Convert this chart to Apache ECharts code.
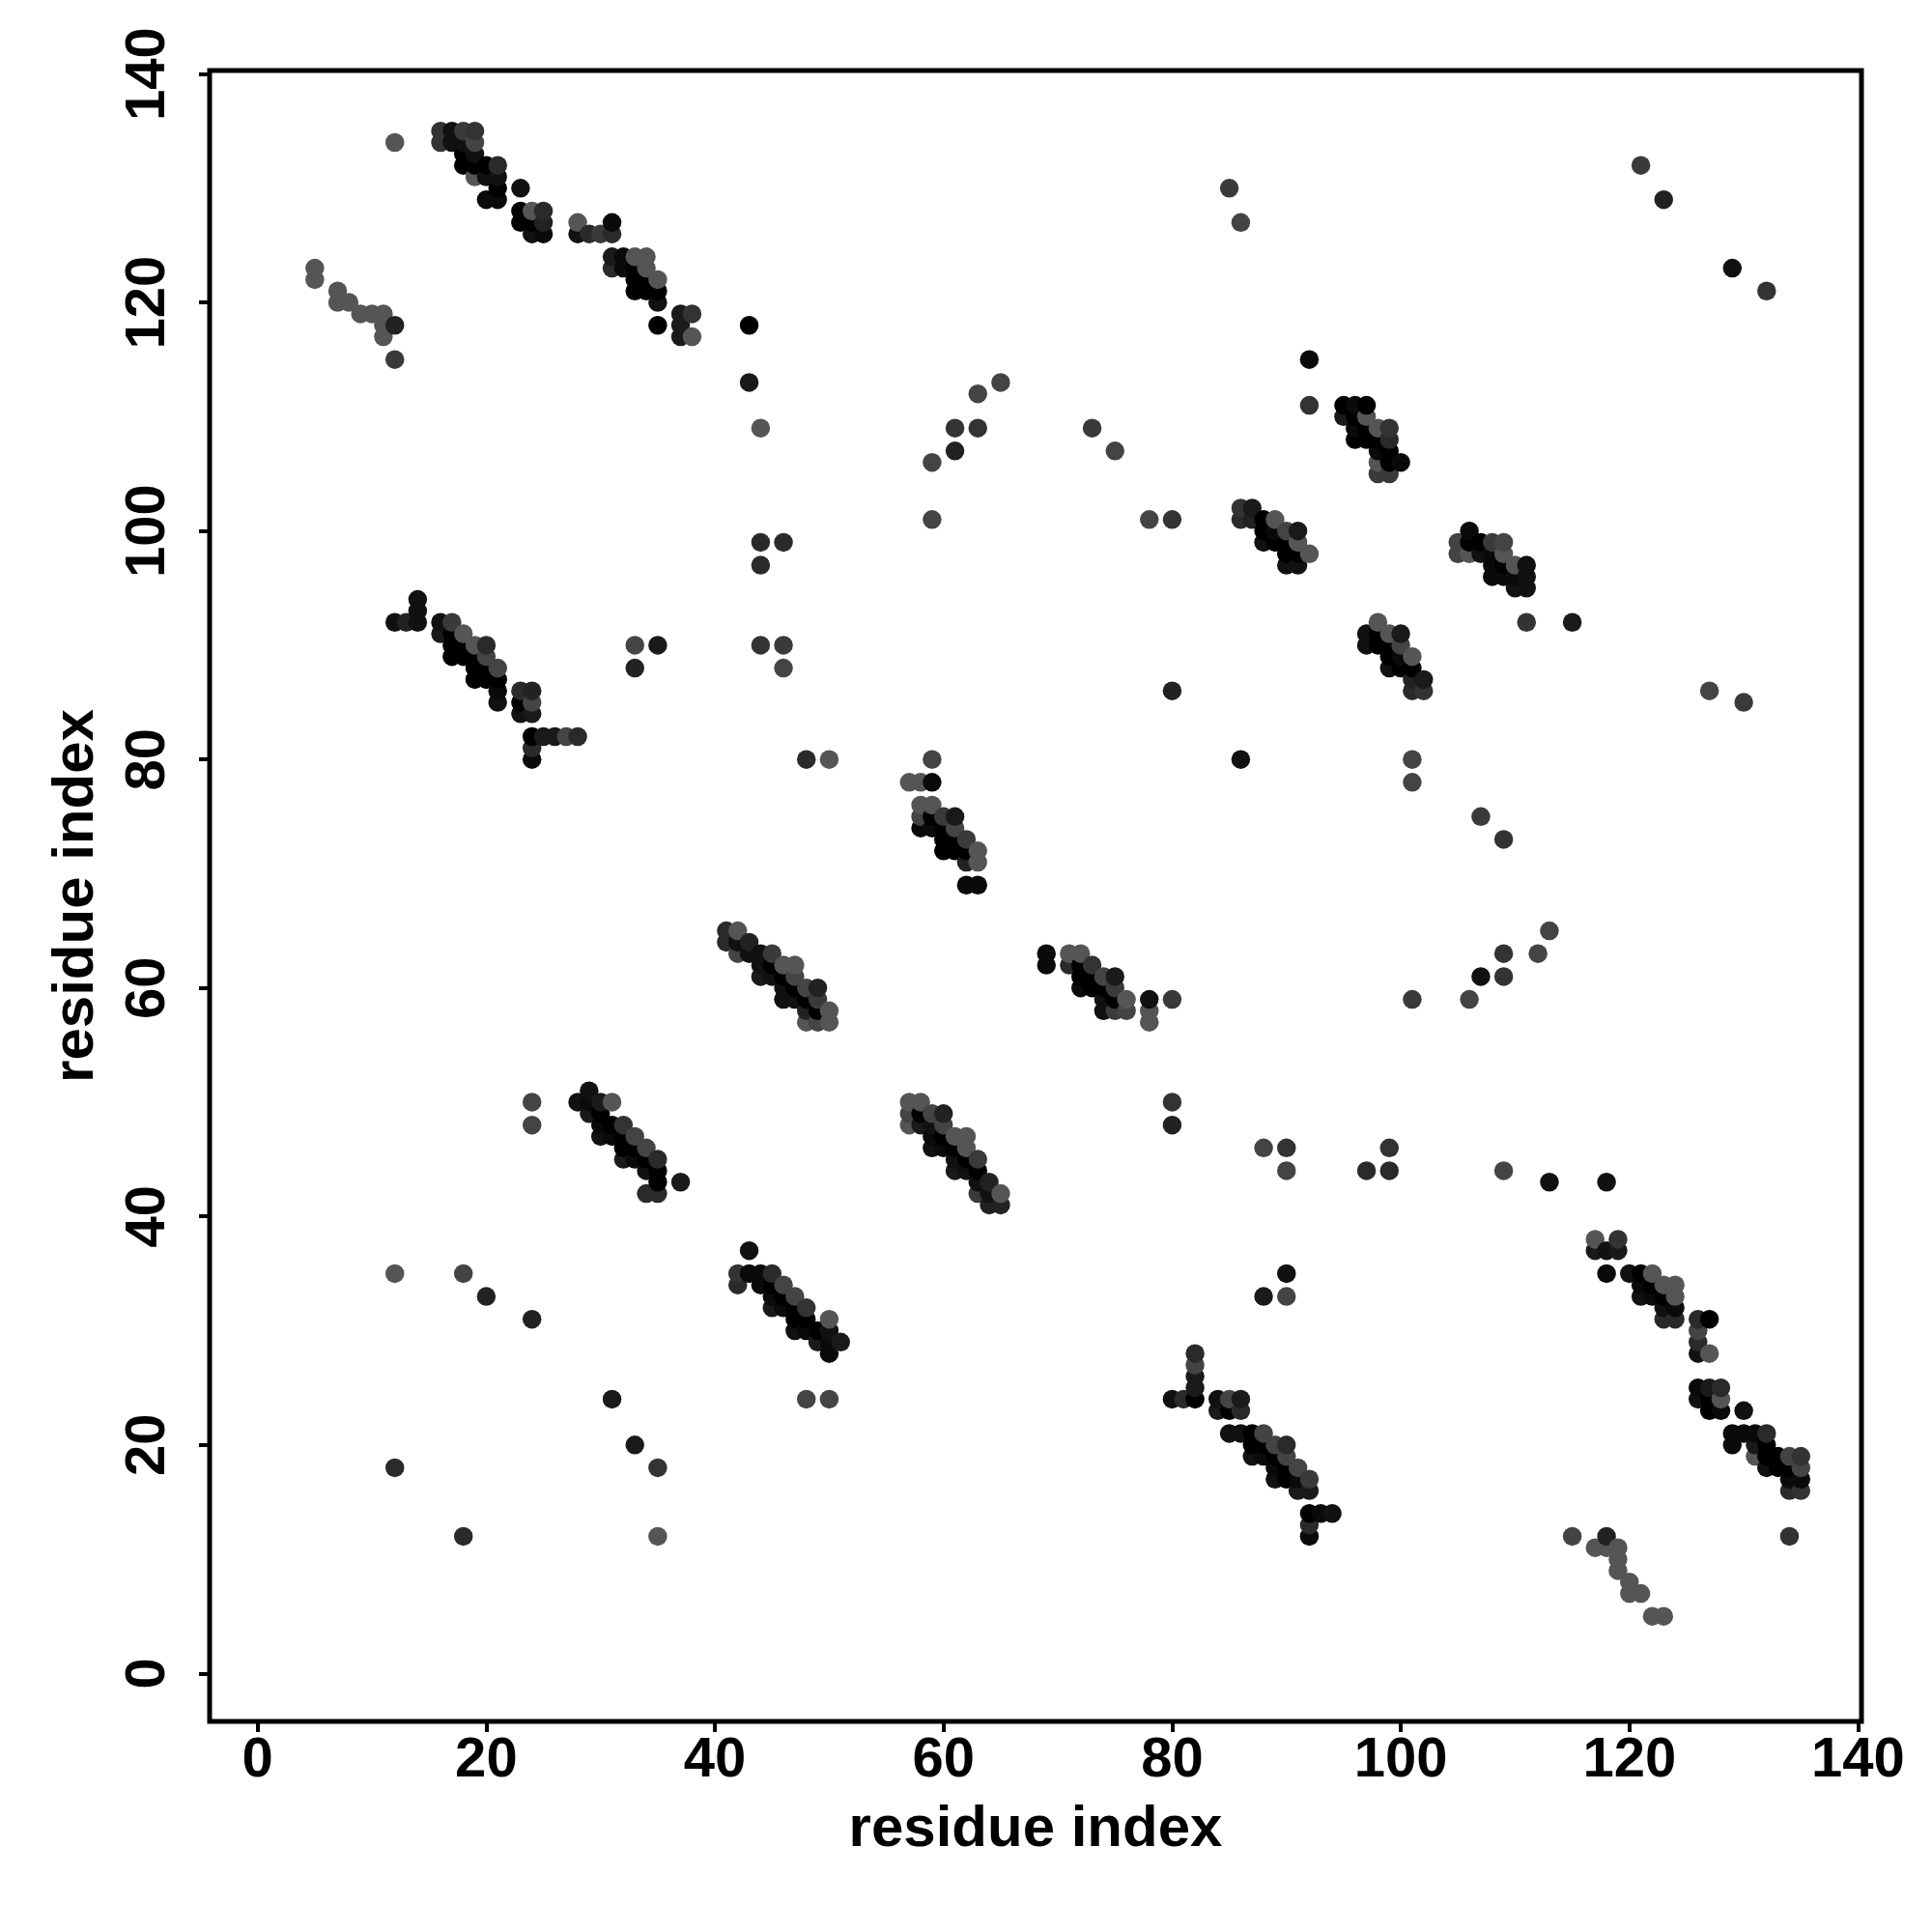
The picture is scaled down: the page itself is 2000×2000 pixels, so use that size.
<!DOCTYPE html>
<html><head><meta charset="utf-8">
<style>html,body{margin:0;padding:0;background:#fff}#c{width:2000px;height:2000px}</style>
<script src="https://cdn.jsdelivr.net/npm/echarts@6/dist/echarts.min.js"></script>
</head><body><div id="c"></div>
<script>
// Each point: [residue x, residue y, grey level]
const tickValues = [0,20,40,60,80,100,120,140];
const axisTitle = 'residue index';
const helixA = [[16,135,51],[16,134,51],[17,135,17],[17,134,17],[18,135,58],[18,134,17],[19,135,51],[19,134,68],[18,133,0],[19,133,17],[18,132,0],[19,132,0],[20,132,0],[21,132,42],[19,131,85],[20,131,17],[21,131,17],[21,130,0],[20,129,10],[21,129,10],[23,130,17],
[23,128,0],[23,127,0],[24,128,85],[25,128,42],[25,127,34],[24,127,0],[24,126,17],[25,126,10],
[28,127,85],[28,126,17],[29,126,42],[30,126,58],[31,127,10],[31,126,42],
[31,124,26],[32,124,10],[33,124,85],[34,124,85],[31,123,42],[32,123,10],[33,123,0],[34,123,85],[33,122,0],[34,122,0],[35,122,85],[33,121,0],[34,121,0],[35,121,0],[35,120,17],[35,118,0],
[37,119,26],[38,119,51],[37,118,26],[37,117,26],[38,117,85],[43,118,0],[43,113,26]];
const helixB = [[5,123,85],[5,122,85],[7,121,85],[7,120,85],[8,120,85],[9,119,85],[10,119,85],[11,119,85],[11,118,85],[11,117,85],[12,118,34],[12,115,58],[12,134,85]];
const helixC = [[14,94,17],[14,93,17],[14,92,17],[12,92,17],[13,92,34],[16,92,17],[17,92,58],[16,91,26],[17,91,0],[18,91,85],[17,90,0],[18,90,0],[19,90,85],[20,90,42],[17,89,0],[18,89,0],[19,89,0],[20,89,68],[19,88,0],[20,88,0],[21,88,68],[19,87,0],[20,87,0],[21,87,0],[21,86,10],[21,85,17],
[23,86,42],[24,86,34],[23,85,0],[24,85,68],[23,84,17],[24,84,26],[24,82,0],[25,82,26],[26,82,26],[27,82,68],[28,82,42],[24,81,42],[24,80,10]];
const helixD = [[48,80,42],[50,80,85],[59,80,68],[57,78,85],[58,78,85],[59,78,10],[58,76,85],[59,76,85],[58,75,68],[59,75,0],[60,75,58],[61,75,26],[58,74,10],[59,74,10],[60,74,0],[61,74,68],[60,73,0],[61,73,0],[62,73,58],[60,72,0],[61,72,0],[62,72,0],[63,72,85],[62,71,34],[63,71,85],[62,69,10],[63,69,10]];
const helixE = [[41,65,42],[42,65,85],[41,64,42],[42,64,17],[43,64,34],[42,63,68],[43,63,17],[44,63,17],[45,63,58],[44,62,17],[45,62,0],[46,62,85],[47,62,85],[44,61,26],[45,61,17],[46,61,0],[47,61,68],[46,60,17],[47,60,0],[48,60,68],[49,60,34],[46,59,17],[47,59,17],[48,59,0],[49,59,58],[48,58,34],[49,58,0],[50,58,85],[48,57,85],[49,57,68],[50,57,85]];
const helixF = [[69,63,10],[69,62,10],[71,63,85],[72,63,85],[71,62,42],[72,62,0],[73,62,51],[72,61,0],[73,61,0],[74,61,68],[75,61,26],[72,60,10],[73,60,0],[74,60,0],[75,60,58],[74,59,17],[75,59,0],[76,59,85],[74,58,17],[75,58,58],[76,58,68],[78,59,17],[78,58,85],[78,57,85],[80,59,58]];
const helixG = [[29,51,17],[28,50,17],[29,50,10],[30,50,26],[31,50,85],[29,49,26],[30,49,0],[30,48,10],[31,48,0],[32,48,51],[30,47,17],[31,47,10],[32,47,0],[33,47,68],[32,46,0],[33,46,0],[34,46,68],[32,45,26],[33,45,10],[34,45,0],[35,45,42],[34,44,17],[35,44,0],[35,43,0],[37,43,26],[34,42,42],[35,42,42]];
const helixH = [[57,50,85],[58,50,85],[57,49,68],[58,49,0],[59,49,68],[60,49,34],[57,48,85],[58,48,26],[59,48,17],[60,48,68],[59,47,10],[60,47,0],[61,47,85],[62,47,85],[59,46,17],[60,46,10],[61,46,0],[62,46,85],[61,45,17],[62,45,0],[63,45,58],[61,44,26],[62,44,17],[63,44,0],[63,43,17],[64,43,34],[63,42,58],[64,42,17],[65,42,85],[64,41,34],[65,41,34]];
const helixI = [[43,37,17],[42,35,51],[43,35,10],[44,35,10],[45,35,42],[42,34,42],[44,34,10],[45,34,0],[46,34,68],[45,33,10],[46,33,0],[47,33,68],[45,32,26],[46,32,10],[47,32,0],[48,32,51],[47,31,0],[48,31,0],[50,31,85],[47,30,17],[48,30,10],[49,30,0],[50,30,17],[49,29,26],[50,29,10],[51,29,26],[50,28,10]];
const helixJ = [[82,28,42],[82,27,68],[82,26,26],[82,25,26],[82,24,0],[80,24,17],[81,24,42],[84,24,17],[85,24,68],[86,24,26],[84,23,26],[85,23,0],[86,23,42],[85,21,17],[86,21,17],[87,21,0],[88,21,68],[87,20,0],[88,20,0],[89,20,68],[90,20,42],[87,19,17],[88,19,10],[89,19,0],[90,19,68],[89,18,10],[90,18,0],[91,18,68],[89,17,17],[90,17,0],[91,17,10],[92,17,58],[91,16,26],[92,16,26],[92,14,0],[93,14,10],[94,14,17],[92,13,42],[92,12,10]];
const helixK = [[95,111,0],[96,111,10],[97,111,0],[95,110,26],[96,110,0],[97,110,85],[96,109,10],[97,109,0],[98,109,85],[99,109,51],[96,108,0],[97,108,0],[98,108,0],[99,108,42],[98,107,10],[99,107,0],[98,106,85],[99,106,0],[100,106,10],[98,105,58],[99,105,58]];
const helixL = [[86,102,51],[87,102,26],[86,101,42],[87,101,34],[88,101,0],[89,101,85],[88,100,0],[89,100,10],[90,100,68],[91,100,26],[88,99,17],[89,99,0],[90,99,0],[91,99,85],[90,98,0],[91,98,0],[92,98,85],[90,97,17],[91,97,17]];
const helixM = [[102,86,51],[102,87,26],[101,86,42],[101,87,34],[101,88,0],[101,89,85],[100,88,0],[100,89,10],[100,90,68],[100,91,26],[99,88,17],[99,89,0],[99,90,0],[99,91,85],[98,90,0],[98,91,0],[98,92,85],[97,90,17],[97,91,17]];
const helixN = [[106,100,10],[105,99,68],[106,99,0],[107,99,0],[108,99,58],[109,99,68],[105,98,68],[106,98,85],[107,98,17],[108,98,10],[109,98,85],[108,97,10],[109,97,0],[110,97,85],[111,97,17],[108,96,10],[109,96,10],[110,96,10],[111,96,17],[110,95,17],[111,95,17]];
const helixO = [[117,38,85],[119,38,51],[117,37,26],[118,37,17],[119,37,26],[118,35,10],[120,35,17],[121,35,0],[122,35,85],[121,34,10],[122,34,0],[123,34,85],[124,34,85],[121,33,17],[122,33,10],[123,33,0],[124,33,85],[123,32,17],[124,32,10],[123,31,42],[124,31,42],[126,31,42],[127,31,0],[126,30,68],[126,29,42],[126,28,17],[127,28,85]];
const helixP = [[126,25,10],[127,25,26],[128,25,42],[126,24,17],[127,24,0],[128,24,85],[127,23,0],[128,23,10],[130,23,17],[129,21,10],[130,21,10],[131,21,10],[132,21,42],[129,20,10],[131,20,26],[132,20,0],[131,19,85],[132,19,0],[133,19,0],[134,19,68],[135,19,51],[132,18,17],[133,18,0],[134,18,0],[135,18,68],[134,17,10],[135,17,10],[134,16,42],[135,16,51]];
const helixQ = [[122,5,85],[123,5,85],[120,7,85],[121,7,85],[120,8,85],[119,9,85],[119,10,85],[119,11,85],[118,11,85],[117,11,85],[118,12,34],[115,12,68]];
const isolatedUpper = [[85,130,58],[86,127,68],[121,132,58],[123,129,34],[129,123,17],[132,121,51],[92,115,10],[92,111,51],[44,109,85],[65,113,68],[63,112,68],[61,109,51],[63,109,51],[61,107,34],[59,106,68],[73,109,58],[75,107,68],[59,101,68],[78,101,68],[80,101,51],[44,99,42],[46,99,42],[44,97,42],[111,92,51],[115,92,26],[33,90,68],[35,90,26],[33,88,34],[44,90,51],[46,90,58],[46,88,68],[80,86,34],[127,86,68],[130,85,58],[86,80,17],[101,80,68],[101,78,68],[107,75,58],[109,73,51]];
const isolatedLower = [[113,65,68],[112,63,68],[109,63,51],[107,61,17],[109,61,51],[106,59,68],[101,59,58],[24,50,68],[24,48,68],[80,50,51],[80,48,34],[88,46,68],[90,46,51],[90,44,68],[97,44,42],[99,46,51],[99,44,42],[109,44,68],[113,43,17],[118,43,17],[12,35,85],[18,35,68],[20,33,34],[24,31,34],[90,35,17],[88,33,26],[90,33,68],[31,24,26],[48,24,68],[50,24,68],[33,20,26],[35,18,51],[12,18,42],[18,12,42],[35,12,85],[134,12,51]];

const points = [helixA,helixB,helixC,helixD,helixE,helixF,helixG,helixH,helixI,helixJ,helixK,helixL,helixM,helixN,helixO,helixP,helixQ,isolatedUpper,isolatedLower]
  .flat().sort((a,b)=>a[0]-b[0]||a[1]-b[1]);

const font = '"Liberation Sans", Arial, sans-serif';
function axis(rot, gap, margin){
  return {
    type:'value', min:-4.2, max:140.3, name:axisTitle, nameLocation:'middle', nameGap:gap,
    nameTextStyle:{fontFamily:font,fontWeight:'bold',fontSize:60,color:'#000'},
    splitLine:{show:false}, axisLine:{show:false,onZero:false},
    axisTick:{show:true,inside:false,length:11,lineStyle:{color:'#000',width:4},customValues:tickValues},
    axisLabel:{show:true,rotate:rot,margin:margin,fontFamily:font,fontWeight:'bold',fontSize:58,color:'#000',customValues:tickValues,hideOverlap:false}
  };
}
const chart = echarts.init(document.getElementById('c'),null,{renderer:'canvas'});
chart.setOption({
  animation:false, backgroundColor:'#fff',
  grid:{left:217,right:73,top:73,bottom:218,show:true,borderColor:'#000',borderWidth:5,backgroundColor:'transparent'},
  xAxis:axis(0,82,12), yAxis:axis(90,108,34),
  series:[{type:'scatter',data:points,symbol:'circle',symbolSize:19.5,clip:false,progressive:0,large:false,
    itemStyle:{opacity:1,color:p=>{const g=p.data[2];return `rgb(${g},${g},${g})`;}}}]
});
</script></body></html>
